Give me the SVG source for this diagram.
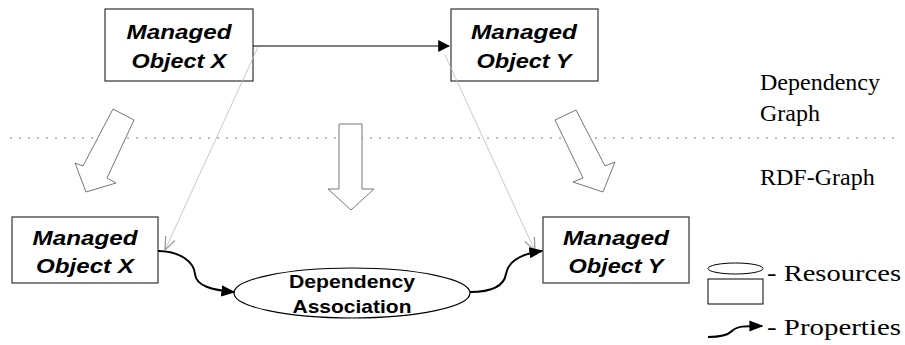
<svg xmlns="http://www.w3.org/2000/svg" width="905" height="345" viewBox="0 0 905 345">
<defs>
<style>
.box{fill:#fff;stroke:#333;stroke-width:1.2}
.bi{font-family:"Liberation Sans",Arial,sans-serif;font-weight:bold;font-style:italic;font-size:21px;text-anchor:middle;fill:#000}
.b{font-family:"Liberation Sans",Arial,sans-serif;font-weight:bold;font-size:19px;text-anchor:middle;fill:#000}
.serif{font-family:"Liberation Serif","Times New Roman",serif;font-size:24px;fill:#000}
.blk{fill:#fff;stroke:#777;stroke-width:1}
.thin{fill:none;stroke:#bbb;stroke-width:0.8}
.prop{fill:none;stroke:#000;stroke-width:2}
</style>
<marker id="ah" viewBox="0 0 10 10" refX="9" refY="5" markerWidth="12" markerHeight="12" markerUnits="userSpaceOnUse" orient="auto">
<path d="M0,0 L10,5 L0,10 z" fill="#000"/>
</marker>
<marker id="ahp" viewBox="0 0 10 10" refX="9" refY="5" markerWidth="14" markerHeight="14" markerUnits="userSpaceOnUse" orient="auto">
<path d="M0,1 L10,5 L0,9 z" fill="#000"/>
</marker>
<marker id="open" viewBox="0 0 10 10" refX="10" refY="5" markerWidth="13" markerHeight="13" markerUnits="userSpaceOnUse" orient="auto">
<path d="M0,1 L10,5 L0,9" fill="none" stroke="#999" stroke-width="1"/>
</marker>
</defs>
<rect width="905" height="345" fill="#fff"/>

<line x1="10" y1="138" x2="900" y2="138" stroke="#aaa" stroke-width="1.5" stroke-dasharray="2 7"/>

<g id="block-arrows">
<polygon class="blk" points="113,109 134,120 107,178 116,183 86,192 75,163 83,166"/>
<polygon class="blk" points="339,124 362,124 362,189 374,189 351,210 328,189 339,189"/>
<polygon class="blk" points="555,120 576,110 605,166 615,162 603,192 573,182 583,178"/>
</g>

<g id="node-top-x">
<rect class="box" x="105" y="9" width="148" height="72"/>
<text class="bi" x="179" y="39" textLength="105" lengthAdjust="spacingAndGlyphs">Managed</text>
<text class="bi" x="179" y="68" textLength="95" lengthAdjust="spacingAndGlyphs">Object X</text>
</g>
<g id="node-top-y">
<rect class="box" x="451" y="9" width="147" height="72"/>
<text class="bi" x="524" y="39" textLength="106" lengthAdjust="spacingAndGlyphs">Managed</text>
<text class="bi" x="524" y="68" textLength="95" lengthAdjust="spacingAndGlyphs">Object Y</text>
</g>
<g id="node-bottom-x">
<rect class="box" x="12" y="217" width="146" height="66"/>
<text class="bi" x="85" y="245" textLength="105" lengthAdjust="spacingAndGlyphs">Managed</text>
<text class="bi" x="85" y="273" textLength="98" lengthAdjust="spacingAndGlyphs">Object X</text>
</g>
<g id="node-bottom-y">
<rect class="box" x="543" y="217" width="146" height="66"/>
<text class="bi" x="616" y="245" textLength="106" lengthAdjust="spacingAndGlyphs">Managed</text>
<text class="bi" x="616" y="273" textLength="95" lengthAdjust="spacingAndGlyphs">Object Y</text>
</g>
<g id="node-dependency-association">
<ellipse cx="352" cy="293" rx="118" ry="25" fill="#fff" stroke="#000" stroke-width="1.2"/>
<text class="b" x="352" y="288" textLength="126" lengthAdjust="spacingAndGlyphs">Dependency</text>
<text class="b" x="352" y="313" textLength="119" lengthAdjust="spacingAndGlyphs">Association</text>
</g>

<g id="connectors">
<line x1="253" y1="46" x2="449" y2="46" stroke="#000" stroke-width="1.2" marker-end="url(#ah)"/>
<line class="thin" x1="258" y1="47" x2="165" y2="250" marker-end="url(#open)"/>
<line class="thin" x1="445" y1="55" x2="535" y2="251" marker-end="url(#open)"/>
<path class="prop" d="M158,251 C180,251 194,262 195,274 C196,286 212,290 234,292" marker-end="url(#ahp)"/>
<path class="prop" d="M470,292 C492,292 504,286 506,274 C508,262 520,254 542,251" marker-end="url(#ahp)"/>
</g>

<g id="labels">
<text class="serif" x="760" y="90">Dependency</text>
<text class="serif" x="760" y="121">Graph</text>
<text class="serif" x="760" y="185">RDF-Graph</text>
</g>

<g id="legend">
<ellipse cx="735.5" cy="268.5" rx="27.5" ry="5.5" fill="#fff" stroke="#000" stroke-width="1"/>
<rect x="708" y="279" width="55" height="25" fill="#fff" stroke="#000" stroke-width="1"/>
<text class="serif" x="767" y="281" textLength="134" lengthAdjust="spacingAndGlyphs">- Resources</text>
<path class="prop" d="M708,337 C722,337 728,335 732,331 C737,326 744,326 762,326" marker-end="url(#ahp)"/>
<text class="serif" x="767" y="335" textLength="134" lengthAdjust="spacingAndGlyphs">- Properties</text>
</g>
</svg>
